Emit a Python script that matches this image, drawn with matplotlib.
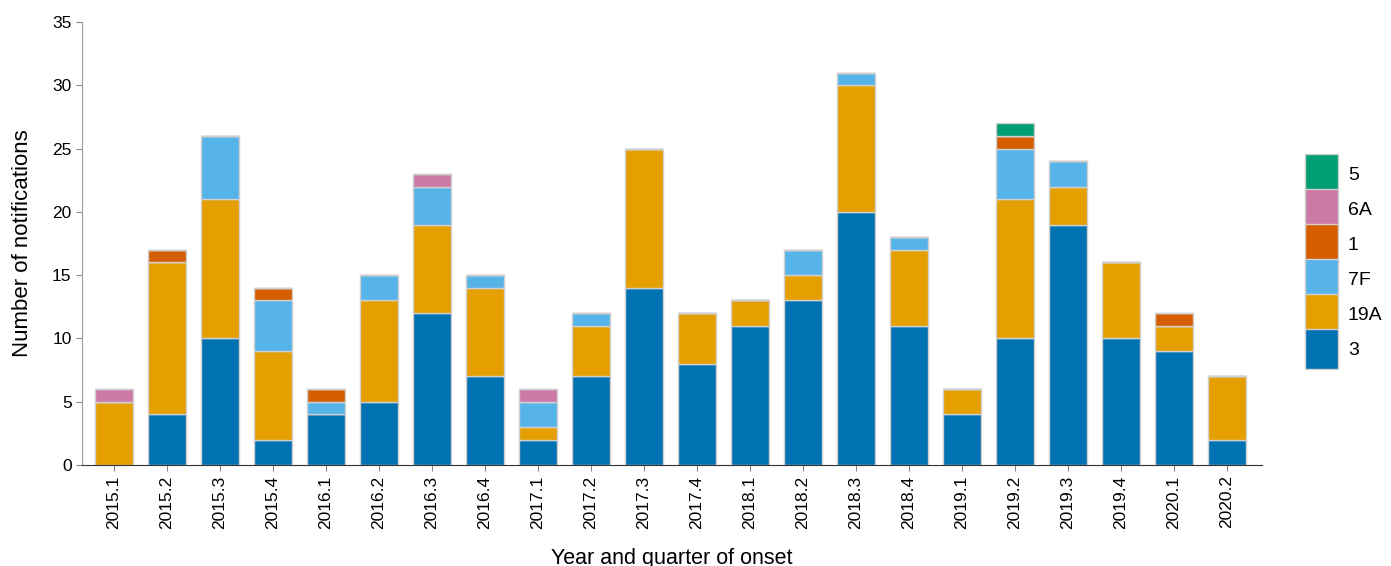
import matplotlib
matplotlib.use("Agg")
import matplotlib.pyplot as plt
from matplotlib.patches import Patch
import numpy as np

plt.rcParams['font.family'] = ['Liberation Sans', 'DejaVu Sans']

quarters = ["2015.1", "2015.2", "2015.3", "2015.4", "2016.1", "2016.2", "2016.3", "2016.4",
            "2017.1", "2017.2", "2017.3", "2017.4", "2018.1", "2018.2", "2018.3", "2018.4",
            "2019.1", "2019.2", "2019.3", "2019.4", "2020.1", "2020.2"]

s3   = [0, 4, 10, 2, 4, 5, 12, 7, 2, 7, 14, 8, 11, 13, 20, 11, 4, 10, 19, 10, 9, 2]
s19A = [5, 12, 11, 7, 0, 8, 7, 7, 1, 4, 11, 4, 2, 2, 10, 6, 2, 11, 3, 6, 2, 5]
s7F  = [0, 0, 5, 4, 1, 2, 3, 1, 2, 1, 0, 0, 0, 2, 1, 1, 0, 4, 2, 0, 0, 0]
s1   = [0, 1, 0, 1, 1, 0, 0, 0, 0, 0, 0, 0, 0, 0, 0, 0, 0, 1, 0, 0, 1, 0]
s6A  = [1, 0, 0, 0, 0, 0, 1, 0, 1, 0, 0, 0, 0, 0, 0, 0, 0, 0, 0, 0, 0, 0]
s5   = [0, 0, 0, 0, 0, 0, 0, 0, 0, 0, 0, 0, 0, 0, 0, 0, 0, 1, 0, 0, 0, 0]

series_names = ["3", "19A", "7F", "1", "6A", "5"]
series_vals = [s3, s19A, s7F, s1, s6A, s5]
colors = ["#0072B2", "#E69F00", "#56B4E9", "#D55E00", "#CC79A7", "#009E73"]

fig = plt.figure(figsize=(13.91, 5.66), dpi=100)
ax = fig.add_axes([82/1391, 101/566, (1262-82)/1391, (465-22)/566])

x = np.arange(len(quarters))
bottom = np.zeros(len(quarters))
for name, vals, c in zip(series_names, series_vals, colors):
    v = np.array(vals, dtype=float)
    ax.bar(x, v, bottom=bottom, width=0.72, color=c, edgecolor="#d0d0d0", linewidth=1.0)
    bottom += v

ax.set_xlim(-0.6, 21.66)
ax.set_ylim(0, 35)
ax.set_yticks(range(0, 36, 5))
ax.set_xticks(x)
ax.set_xticklabels(quarters, rotation=90, fontsize=12.5)
ax.tick_params(axis='y', labelsize=12.5, length=4, color='#888888')
ax.tick_params(axis='x', length=4, color='#888888')
for lab in ax.get_xticklabels() + ax.get_yticklabels():
    lab.set_color('black')
ax.spines['top'].set_visible(False)
ax.spines['right'].set_visible(False)
ax.spines['left'].set_color('#999999')
ax.spines['bottom'].set_color('#333333')
ax.set_ylabel("Number of notifications", fontsize=16, labelpad=14)
ax.set_xlabel("Year and quarter of onset", fontsize=15.5, labelpad=14)

handles = [Patch(facecolor=c, edgecolor="#d0d0d0", label=n) for n, c in zip(series_names, colors)][::-1]
fig.legend(handles=handles, loc='upper left', bbox_to_anchor=(1305/1391, 1 - 154/566),
           frameon=False, fontsize=14, handlelength=1.7, handleheight=2.78,
           labelspacing=-0.25, handletextpad=0.5, borderaxespad=0, borderpad=0)

fig.savefig("out.png", dpi=100)
